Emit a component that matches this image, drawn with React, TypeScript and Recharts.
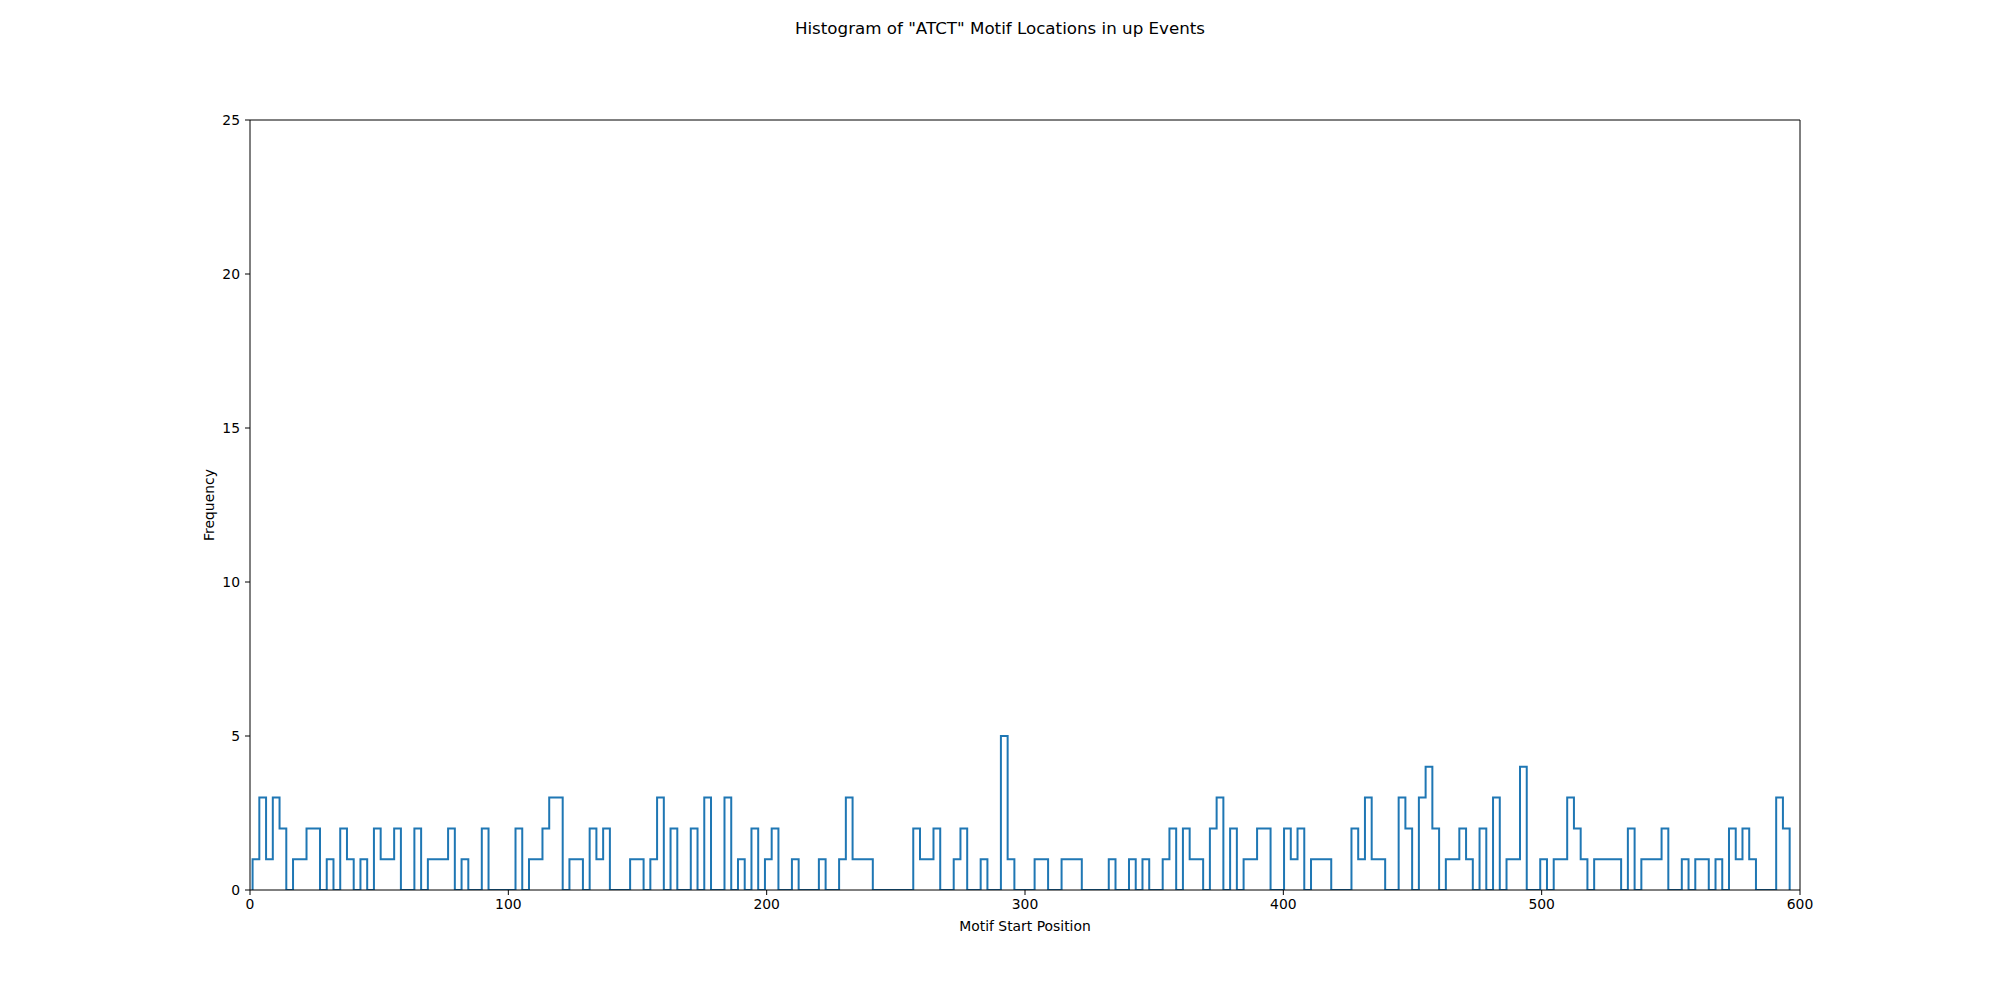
import { Line, LineChart, XAxis, YAxis } from "recharts";

// histogram counts, 228 equal bins between the first and last motif start
const counts = [
  1, 3, 1, 3, 2, 0, 1, 1, 2, 2, 0, 1, 0, 2, 1, 0, 1, 0, 2, 1,
  1, 2, 0, 0, 2, 0, 1, 1, 1, 2, 0, 1, 0, 0, 2, 0, 0, 0, 0, 2,
  0, 1, 1, 2, 3, 3, 0, 1, 1, 0, 2, 1, 2, 0, 0, 0, 1, 1, 0, 1,
  3, 0, 2, 0, 0, 2, 0, 3, 0, 0, 3, 0, 1, 0, 2, 0, 1, 2, 0, 0,
  1, 0, 0, 0, 1, 0, 0, 1, 3, 1, 1, 1, 0, 0, 0, 0, 0, 0, 2, 1,
  1, 2, 0, 0, 1, 2, 0, 0, 1, 0, 0, 5, 1, 0, 0, 0, 1, 1, 0, 0,
  1, 1, 1, 0, 0, 0, 0, 1, 0, 0, 1, 0, 1, 0, 0, 1, 2, 0, 2, 1,
  1, 0, 2, 3, 0, 2, 0, 1, 1, 2, 2, 0, 0, 2, 1, 2, 0, 1, 1, 1,
  0, 0, 0, 2, 1, 3, 1, 1, 0, 0, 3, 2, 0, 3, 4, 2, 0, 1, 1, 2,
  1, 0, 2, 0, 3, 0, 1, 1, 4, 0, 0, 1, 0, 1, 1, 3, 2, 1, 0, 1,
  1, 1, 1, 0, 2, 0, 1, 1, 1, 2, 0, 0, 1, 0, 1, 1, 0, 1, 0, 2,
  1, 2, 1, 0, 0, 0, 3, 2,
];
const rangeStart = 1;
const rangeEnd = 596;

const xTicks = [0, 100, 200, 300, 400, 500, 600];
const yTicks = [0, 5, 10, 15, 20, 25];

const binWidth = (rangeEnd - rangeStart) / counts.length;

// step outline like histtype="step": up from the baseline, across each bin, back down
const stepData = [
  { x: rangeStart, y: 0 },
  ...counts.map((c, i) => ({ x: rangeStart + i * binWidth, y: c })),
  { x: rangeEnd, y: 0 },
];

const font = "'DejaVu Sans', sans-serif";
const tickStyle = { fill: "#000", fontSize: 13.9, fontFamily: font };

export default function App() {
  return (
    <div
      style={{
        position: "absolute",
        left: 0,
        top: 0,
        width: 2000,
        height: 1000,
        background: "#fff",
        fontFamily: font,
      }}
    >
      <div
        style={{
          position: "absolute",
          top: 18,
          width: 2000,
          textAlign: "center",
          fontSize: 16.7,
          lineHeight: "20px",
          color: "#000",
        }}
      >
        Histogram of "ATCT" Motif Locations in up Events
      </div>
      <LineChart
        width={2000}
        height={1000}
        data={stepData}
        margin={{ top: 119, right: 199, bottom: 60, left: 190 }}
      >
        <XAxis
          xAxisId="b"
          type="number"
          dataKey="x"
          domain={[0, 600]}
          ticks={xTicks}
          allowDataOverflow
          height={50}
          stroke="#000"
          tickSize={5}
          tickMargin={4}
          tick={tickStyle}
          label={{
            value: "Motif Start Position",
            position: "insideBottom",
            offset: 9,
            style: { fill: "#000", fontSize: 13.9, fontFamily: font },
          }}
        />
        <XAxis
          xAxisId="t"
          orientation="top"
          type="number"
          dataKey="x"
          domain={[0, 600]}
          allowDataOverflow
          height={1}
          stroke="#000"
          tick={false}
          tickLine={false}
        />
        <YAxis
          yAxisId="l"
          type="number"
          domain={[0, 25]}
          ticks={yTicks}
          allowDataOverflow
          width={60}
          stroke="#000"
          tickSize={5}
          tickMargin={5}
          tick={tickStyle}
          label={{
            value: "Frequency",
            angle: -90,
            position: "insideLeft",
            offset: 19,
            style: { fill: "#000", fontSize: 13.9, fontFamily: font, textAnchor: "middle" },
          }}
        />
        <YAxis
          yAxisId="r"
          orientation="right"
          type="number"
          domain={[0, 25]}
          allowDataOverflow
          width={1}
          stroke="#000"
          tick={false}
          tickLine={false}
        />
        <Line
          xAxisId="b"
          yAxisId="l"
          type="stepAfter"
          dataKey="y"
          stroke="#1f77b4"
          strokeWidth={2}
          dot={false}
          activeDot={false}
          isAnimationActive={false}
        />
      </LineChart>
    </div>
  );
}
